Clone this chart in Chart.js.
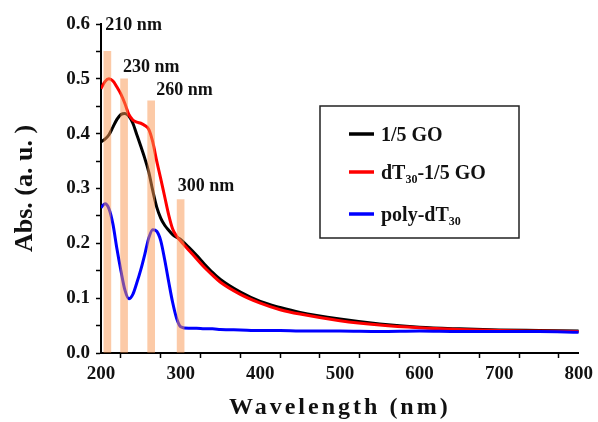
<!DOCTYPE html>
<html><head><meta charset="utf-8">
<script src="https://cdn.jsdelivr.net/npm/chart.js@4/dist/chart.umd.min.js"></script>
<style>html,body{margin:0;padding:0;background:#fff;}</style>
</head><body>
<canvas id="c" width="598" height="422"></canvas>
<script>
// ---- data ----
const wavelengths = [200,205,210,215,220,225,230,235,240,245,250,255,260,265,270,275,280,285,290,295,300,310,320,330,340,350,375,400,425,450,500,550,600,650,700,750,800];
const goValues = [0.385,0.390,0.398,0.412,0.426,0.435,0.437,0.432,0.419,0.398,0.377,0.355,0.330,0.296,0.266,0.246,0.233,0.224,0.216,0.211,0.207,0.193,0.178,0.162,0.147,0.134,0.111,0.094,0.083,0.074,0.062,0.053,0.047,0.044,0.042,0.041,0.040];
const dtGoValues = [0.482,0.495,0.500,0.496,0.485,0.472,0.455,0.435,0.425,0.421,0.419,0.415,0.408,0.385,0.350,0.318,0.285,0.252,0.226,0.213,0.204,0.188,0.172,0.156,0.142,0.129,0.107,0.091,0.079,0.071,0.059,0.051,0.046,0.043,0.041,0.040,0.039];
const polyDtValues = [0.265,0.272,0.263,0.235,0.190,0.150,0.115,0.099,0.107,0.128,0.152,0.180,0.210,0.225,0.222,0.205,0.170,0.130,0.092,0.063,0.048,0.045,0.045,0.044,0.044,0.043,0.042,0.041,0.041,0.040,0.040,0.039,0.040,0.039,0.039,0.039,0.038];
const seriesNames = ['1/5 GO', 'dT\u2083\u2080-1/5 GO', 'poly-dT\u2083\u2080'];
const peakPositions = [208, 229, 263, 300];
const peakHeights = [0.55, 0.50, 0.46, 0.28];
const peakLabels = ['210 nm', '230 nm', '260 nm', '300 nm'];
const xAxisTitle = 'Wavelength (nm)';
const yAxisTitle = 'Abs. (a. u. )';

// ---- styles ----
const SERIF = "'Liberation Serif', 'Times New Roman', serif";
const seriesColors = ['#000000', '#ff0000', '#0000ff'];

function toPoints(xs, ys) { return xs.map((x, i) => ({x: x, y: ys[i]})); }

const SUBS = '\u2080\u2081\u2082\u2083\u2084\u2085\u2086\u2087\u2088\u2089';
function drawRich(ctx, text, x, y, size) {
  let cx = x;
  for (const ch of text) {
    const si = SUBS.indexOf(ch);
    if (si >= 0) {
      ctx.font = `bold ${Math.round(size * 0.62)}px ${SERIF}`;
      ctx.fillText(String(si), cx, y + size * 0.22);
      cx += ctx.measureText(String(si)).width;
    } else {
      ctx.font = `bold ${size}px ${SERIF}`;
      ctx.fillText(ch, cx, y);
      cx += ctx.measureText(ch).width;
    }
  }
}

const annotationsPlugin = {
  id: 'annot',
  afterDatasetsDraw(chart, args, opts) {
    const ctx = chart.ctx;
    const xs = chart.scales.x, ys = chart.scales.y;
    const ca = chart.chartArea;
    ctx.save();
    // peak labels
    ctx.fillStyle = '#111';
    ctx.textAlign = 'left';
    ctx.textBaseline = 'alphabetic';
    ctx.font = `bold 18px ${SERIF}`;
    peakLabels.forEach((lab, i) => {
      const px = xs.getPixelForValue(peakPositions[i]) + opts.labelDx[i];
      const py = ys.getPixelForValue(peakHeights[i]) + opts.labelDy[i];
      ctx.fillText(lab, px, py);
    });
    // legend box
    const bx = ca.left + 219, by = ca.top + 82, bw = 199, bh = 132;
    ctx.strokeStyle = '#222';
    ctx.lineWidth = 1.5;
    ctx.strokeRect(bx, by, bw, bh);
    const rows = [28, 66, 108];
    chart.data.datasets.filter(d => d.type === 'line').forEach((d, i) => {
      const ry = by + rows[i];
      ctx.strokeStyle = d.borderColor;
      ctx.lineWidth = 3.5;
      ctx.beginPath();
      ctx.moveTo(bx + 29, ry);
      ctx.lineTo(bx + 54, ry);
      ctx.stroke();
      ctx.fillStyle = '#111';
      drawRich(ctx, d.label, bx + 61, ry + 7, 20);
    });
    ctx.restore();
  }
};

const datasets = [
  {type: 'bar', label: 'peaks', data: toPoints(peakPositions, peakHeights),
   backgroundColor: 'rgba(250,150,80,0.5)', borderWidth: 0, barThickness: 7, order: 0},
  {type: 'line', label: seriesNames[0], data: toPoints(wavelengths, goValues), borderColor: seriesColors[0], order: 3},
  {type: 'line', label: seriesNames[1], data: toPoints(wavelengths, dtGoValues), borderColor: seriesColors[1], order: 2},
  {type: 'line', label: seriesNames[2], data: toPoints(wavelengths, polyDtValues), borderColor: seriesColors[2], order: 1},
];
datasets.forEach(d => { if (d.type === 'line') { d.borderWidth = 3; d.pointRadius = 0; d.cubicInterpolationMode = 'monotone'; d.fill = false; } });

const tickFont = {family: SERIF, size: 19, weight: 'bold'};

new Chart(document.getElementById('c'), {
  type: 'line',
  data: {datasets},
  plugins: [annotationsPlugin],
  options: {
    responsive: false,
    animation: false,
    devicePixelRatio: 1,
    layout: {padding: {top: 24, right: 17, left: 0, bottom: 0}},
    plugins: {
      legend: {display: false},
      tooltip: {enabled: false},
      annot: {labelDx: [-2, -1, 5, -3], labelDy: [-21, -7, -6, -8]}
    },
    scales: {
      x: {
        type: 'linear', min: 200, max: 800, offset: false,
        border: {color: '#000', width: 2},
        grid: {drawOnChartArea: false, drawTicks: true, tickLength: 5, tickColor: '#000', tickWidth: 1.5},
        ticks: {stepSize: 50, autoSkip: false, maxRotation: 0, padding: 5, color: '#111', font: tickFont,
          callback: v => (Math.round(v) % 100 === 0 ? String(Math.round(v)) : '')},
        title: {display: true, text: xAxisTitle, color: '#111', font: {family: SERIF, size: 24, weight: 'bold'}, padding: {top: 0, bottom: 0}},
        afterFit(s) {
          s.height = 69;
          if (!s._lsPatched) {
            const orig = s.drawTitle;
            s.drawTitle = function () { const c = this.ctx; c.save(); c.letterSpacing = '3px'; orig.call(this); c.restore(); };
            s._lsPatched = true;
          }
        }
      },
      y: {
        min: 0, max: 0.6,
        border: {color: '#000', width: 2},
        grid: {drawOnChartArea: false, drawTicks: true, tickLength: 5, tickColor: '#000', tickWidth: 1.5},
        ticks: {stepSize: 0.05, autoSkip: false, padding: 6, color: '#111', font: tickFont,
          callback: v => (Math.abs(Math.round(v * 10) - v * 10) < 1e-6 ? v.toFixed(1) : '')},
        title: {display: true, text: yAxisTitle, color: '#111', font: {family: SERIF, size: 26, weight: 'bold'}, padding: {top: 10, bottom: 0}},
        afterFit(s) { s.width = 101; }
      }
    }
  }
});
</script>
</body></html>
